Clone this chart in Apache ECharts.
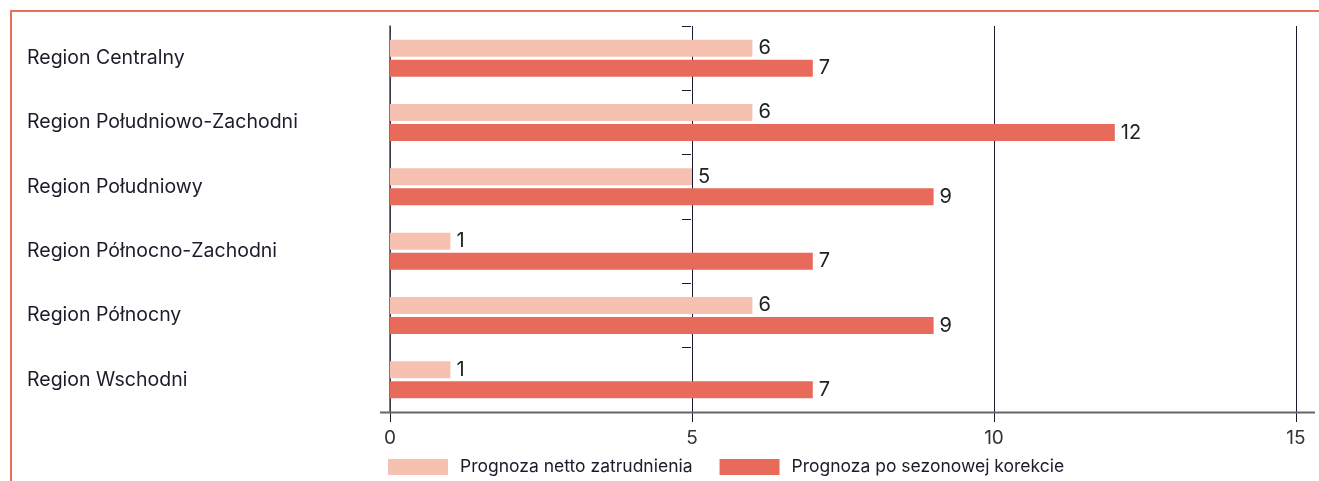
<!DOCTYPE html>
<html>
<head>
<meta charset="utf-8">
<script src="https://cdn.jsdelivr.net/npm/echarts@6/dist/echarts.min.js"></script>
<style>
  html, body { margin: 0; padding: 0; background: #fff; }
  #chart { width: 1319px; height: 481px; }
</style>
</head>
<body>
<div id="chart"></div>
<script>
// dane z wykresu
const regions = ['Region Centralny', 'Region Południowo-Zachodni', 'Region Południowy', 'Region Północno-Zachodni', 'Region Północny', 'Region Wschodni'];
const netto = [6, 6, 5, 1, 6, 1];
const poKorekcie = [7, 12, 9, 7, 9, 7];
const xTicks = [0, 5, 10, 15];

const FONT = 'Inter, "Liberation Sans", Arial, sans-serif';
const chart = echarts.init(document.getElementById('chart'));

const labelStyle = {
  show: true,
  position: 'right',
  distance: 6,
  color: '#222',
  fontSize: 20,
  fontFamily: FONT
};

const option = {
  animation: false,
  grid: { left: 390, right: 23, top: 26, bottom: 69 },
  legend: {
    left: 388,
    top: 458,
    padding: 0,
    itemWidth: 60,
    itemHeight: 16,
    itemGap: 27,
    icon: 'rect',
    textStyle: { fontSize: 17.5, color: '#1c1c2a', fontFamily: FONT, padding: [0, 0, 0, 7] },
    data: ['Prognoza netto zatrudnienia', 'Prognoza po sezonowej korekcie']
  },
  xAxis: {
    type: 'value',
    min: xTicks[0],
    max: xTicks[xTicks.length - 1],
    interval: 5,
    axisLine: { show: false },
    axisTick: { show: true, length: 10, lineStyle: { color: '#1a1a2e' } },
    splitLine: { show: true, lineStyle: { color: '#1a1a2e', width: 1 } },
    axisLabel: { margin: 17, fontSize: 19, color: '#333', fontFamily: FONT }
  },
  yAxis: [
    {
      type: 'category',
      inverse: true,
      data: regions,
      axisLine: { show: true, lineStyle: { color: '#4a4a55', width: 1.5 } },
      axisTick: { show: false },
      axisLabel: { align: 'left', margin: 363, fontSize: 19.5, color: '#1c1c2a', fontFamily: FONT }
    },
    {
      // kreski podziału kategorii przy wartości 5
      type: 'category',
      inverse: true,
      position: 'left',
      offset: -301,
      data: regions,
      axisLine: { show: false },
      axisTick: { show: true, length: 9, lineStyle: { color: '#1a1a2e' } },
      axisLabel: { show: false }
    }
  ],
  series: [
    {
      name: 'Prognoza netto zatrudnienia',
      type: 'bar',
      data: netto,
      barWidth: 17,
      barGap: '18%',
      itemStyle: { color: '#f6c1b1' },
      label: labelStyle
    },
    {
      name: 'Prognoza po sezonowej korekcie',
      type: 'bar',
      data: poKorekcie,
      barWidth: 17,
      barGap: '18%',
      itemStyle: { color: '#e86a5a' },
      label: labelStyle
    }
  ]
};
chart.setOption(option);

// oś X wysunięta nieco poza zakres oraz ramka
const xa = chart.convertToPixel({ xAxisIndex: 0 }, xTicks[0]);
const xb = chart.convertToPixel({ xAxisIndex: 0 }, xTicks[xTicks.length - 1]);
chart.setOption({
  graphic: [
    {
      type: 'line',
      shape: { x1: xa - 10, y1: 412.5, x2: xb + 19, y2: 412.5 },
      style: { stroke: '#666', lineWidth: 2 },
      z: 10
    },
    {
      type: 'rect',
      shape: { x: 11, y: 11, width: 1400, height: 600 },
      style: { fill: 'none', stroke: '#ee6e5e', lineWidth: 2 },
      silent: true
    }
  ]
});
</script>
</body>
</html>
